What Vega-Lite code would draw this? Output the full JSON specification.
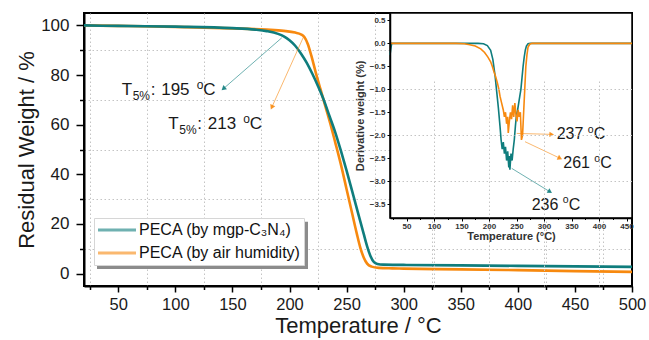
{
  "$schema": "https://vega.github.io/schema/vega-lite/v6.json",
  "width": 548,
  "height": 273,
  "autosize": {"type": "none"},
  "padding": {"left": 84, "top": 13, "right": 17, "bottom": 54},
  "config": {
    "font": "Liberation Sans",
    "view": {"stroke": "black", "strokeWidth": 2},
    "axis": {
      "domainColor": "black",
      "tickColor": "black",
      "labelColor": "#1a1a1a",
      "titleColor": "#1a1a1a",
      "titleFontWeight": "normal",
      "gridColor": "#c4c4c4",
      "gridDash": [1.5, 2.5],
      "gridWidth": 1
    }
  },
  "datasets": {
    "tga": [
      {"s": "PECA (by air humidity)", "T": 20, "w": 100},
      {"s": "PECA (by air humidity)", "T": 50, "w": 99.8},
      {"s": "PECA (by air humidity)", "T": 100, "w": 99.4},
      {"s": "PECA (by air humidity)", "T": 150, "w": 98.8},
      {"s": "PECA (by air humidity)", "T": 180, "w": 98.3},
      {"s": "PECA (by air humidity)", "T": 195, "w": 97.8},
      {"s": "PECA (by air humidity)", "T": 205, "w": 97.1},
      {"s": "PECA (by air humidity)", "T": 210, "w": 96.4},
      {"s": "PECA (by air humidity)", "T": 213, "w": 95.3},
      {"s": "PECA (by air humidity)", "T": 216, "w": 92.5},
      {"s": "PECA (by air humidity)", "T": 219, "w": 88.0},
      {"s": "PECA (by air humidity)", "T": 223, "w": 81.0},
      {"s": "PECA (by air humidity)", "T": 227, "w": 74.5},
      {"s": "PECA (by air humidity)", "T": 232, "w": 66.5},
      {"s": "PECA (by air humidity)", "T": 236, "w": 60.0},
      {"s": "PECA (by air humidity)", "T": 240, "w": 53.0},
      {"s": "PECA (by air humidity)", "T": 245, "w": 44.0},
      {"s": "PECA (by air humidity)", "T": 250, "w": 34.0},
      {"s": "PECA (by air humidity)", "T": 255, "w": 24.0},
      {"s": "PECA (by air humidity)", "T": 259, "w": 16.0},
      {"s": "PECA (by air humidity)", "T": 262, "w": 10.5},
      {"s": "PECA (by air humidity)", "T": 265, "w": 6.5},
      {"s": "PECA (by air humidity)", "T": 268, "w": 4.0},
      {"s": "PECA (by air humidity)", "T": 272, "w": 2.8},
      {"s": "PECA (by air humidity)", "T": 278, "w": 2.3},
      {"s": "PECA (by air humidity)", "T": 290, "w": 2.1},
      {"s": "PECA (by air humidity)", "T": 300, "w": 2.0},
      {"s": "PECA (by air humidity)", "T": 350, "w": 1.7},
      {"s": "PECA (by air humidity)", "T": 400, "w": 1.4},
      {"s": "PECA (by air humidity)", "T": 450, "w": 1.0},
      {"s": "PECA (by air humidity)", "T": 500, "w": 0.7},
      {"s": "PECA (by mgp-C₃N₄)", "T": 20, "w": 100},
      {"s": "PECA (by mgp-C₃N₄)", "T": 50, "w": 99.8},
      {"s": "PECA (by mgp-C₃N₄)", "T": 100, "w": 99.5},
      {"s": "PECA (by mgp-C₃N₄)", "T": 150, "w": 98.9},
      {"s": "PECA (by mgp-C₃N₄)", "T": 170, "w": 98.3},
      {"s": "PECA (by mgp-C₃N₄)", "T": 180, "w": 97.7},
      {"s": "PECA (by mgp-C₃N₄)", "T": 190, "w": 96.6},
      {"s": "PECA (by mgp-C₃N₄)", "T": 195, "w": 95.6},
      {"s": "PECA (by mgp-C₃N₄)", "T": 200, "w": 94.0},
      {"s": "PECA (by mgp-C₃N₄)", "T": 205, "w": 91.8},
      {"s": "PECA (by mgp-C₃N₄)", "T": 210, "w": 88.7},
      {"s": "PECA (by mgp-C₃N₄)", "T": 215, "w": 85.0},
      {"s": "PECA (by mgp-C₃N₄)", "T": 220, "w": 80.5},
      {"s": "PECA (by mgp-C₃N₄)", "T": 225, "w": 75.5},
      {"s": "PECA (by mgp-C₃N₄)", "T": 230, "w": 70.0},
      {"s": "PECA (by mgp-C₃N₄)", "T": 235, "w": 63.5},
      {"s": "PECA (by mgp-C₃N₄)", "T": 240, "w": 57.0},
      {"s": "PECA (by mgp-C₃N₄)", "T": 245, "w": 49.5},
      {"s": "PECA (by mgp-C₃N₄)", "T": 250, "w": 41.5},
      {"s": "PECA (by mgp-C₃N₄)", "T": 255, "w": 33.0},
      {"s": "PECA (by mgp-C₃N₄)", "T": 260, "w": 24.5},
      {"s": "PECA (by mgp-C₃N₄)", "T": 265, "w": 16.0},
      {"s": "PECA (by mgp-C₃N₄)", "T": 268, "w": 11.0},
      {"s": "PECA (by mgp-C₃N₄)", "T": 271, "w": 7.0},
      {"s": "PECA (by mgp-C₃N₄)", "T": 274, "w": 4.6},
      {"s": "PECA (by mgp-C₃N₄)", "T": 277, "w": 3.9},
      {"s": "PECA (by mgp-C₃N₄)", "T": 282, "w": 3.6},
      {"s": "PECA (by mgp-C₃N₄)", "T": 300, "w": 3.5},
      {"s": "PECA (by mgp-C₃N₄)", "T": 350, "w": 3.3},
      {"s": "PECA (by mgp-C₃N₄)", "T": 400, "w": 3.1},
      {"s": "PECA (by mgp-C₃N₄)", "T": 450, "w": 2.9},
      {"s": "PECA (by mgp-C₃N₄)", "T": 500, "w": 2.7}
    ],
    "dtg": [
      {"s": "PECA (by mgp-C₃N₄)", "T": 20, "d": -0.25},
      {"s": "PECA (by mgp-C₃N₄)", "T": 23, "d": 0},
      {"s": "PECA (by mgp-C₃N₄)", "T": 50, "d": 0},
      {"s": "PECA (by mgp-C₃N₄)", "T": 100, "d": 0},
      {"s": "PECA (by mgp-C₃N₄)", "T": 150, "d": 0},
      {"s": "PECA (by mgp-C₃N₄)", "T": 180, "d": 0},
      {"s": "PECA (by mgp-C₃N₄)", "T": 190, "d": -0.01},
      {"s": "PECA (by mgp-C₃N₄)", "T": 197, "d": -0.05},
      {"s": "PECA (by mgp-C₃N₄)", "T": 203, "d": -0.15},
      {"s": "PECA (by mgp-C₃N₄)", "T": 207, "d": -0.35},
      {"s": "PECA (by mgp-C₃N₄)", "T": 211, "d": -0.7},
      {"s": "PECA (by mgp-C₃N₄)", "T": 214, "d": -1.05},
      {"s": "PECA (by mgp-C₃N₄)", "T": 217, "d": -1.4},
      {"s": "PECA (by mgp-C₃N₄)", "T": 220, "d": -1.8},
      {"s": "PECA (by mgp-C₃N₄)", "T": 222, "d": -2.1},
      {"s": "PECA (by mgp-C₃N₄)", "T": 224, "d": -2.3},
      {"s": "PECA (by mgp-C₃N₄)", "T": 226, "d": -2.15},
      {"s": "PECA (by mgp-C₃N₄)", "T": 228, "d": -2.4},
      {"s": "PECA (by mgp-C₃N₄)", "T": 230, "d": -2.25},
      {"s": "PECA (by mgp-C₃N₄)", "T": 232, "d": -2.55},
      {"s": "PECA (by mgp-C₃N₄)", "T": 234, "d": -2.35},
      {"s": "PECA (by mgp-C₃N₄)", "T": 236, "d": -2.7},
      {"s": "PECA (by mgp-C₃N₄)", "T": 237, "d": -2.45},
      {"s": "PECA (by mgp-C₃N₄)", "T": 238, "d": -2.75},
      {"s": "PECA (by mgp-C₃N₄)", "T": 240, "d": -2.4},
      {"s": "PECA (by mgp-C₃N₄)", "T": 242, "d": -2.55},
      {"s": "PECA (by mgp-C₃N₄)", "T": 244, "d": -2.3},
      {"s": "PECA (by mgp-C₃N₄)", "T": 246, "d": -2.1},
      {"s": "PECA (by mgp-C₃N₄)", "T": 248, "d": -1.8},
      {"s": "PECA (by mgp-C₃N₄)", "T": 250, "d": -1.55},
      {"s": "PECA (by mgp-C₃N₄)", "T": 252, "d": -1.45},
      {"s": "PECA (by mgp-C₃N₄)", "T": 254, "d": -1.3},
      {"s": "PECA (by mgp-C₃N₄)", "T": 256, "d": -1.15},
      {"s": "PECA (by mgp-C₃N₄)", "T": 258, "d": -1.0},
      {"s": "PECA (by mgp-C₃N₄)", "T": 260, "d": -0.75},
      {"s": "PECA (by mgp-C₃N₄)", "T": 262, "d": -0.5},
      {"s": "PECA (by mgp-C₃N₄)", "T": 264, "d": -0.3},
      {"s": "PECA (by mgp-C₃N₄)", "T": 266, "d": -0.15},
      {"s": "PECA (by mgp-C₃N₄)", "T": 268, "d": -0.06},
      {"s": "PECA (by mgp-C₃N₄)", "T": 271, "d": -0.01},
      {"s": "PECA (by mgp-C₃N₄)", "T": 275, "d": 0},
      {"s": "PECA (by mgp-C₃N₄)", "T": 300, "d": 0},
      {"s": "PECA (by mgp-C₃N₄)", "T": 350, "d": 0},
      {"s": "PECA (by mgp-C₃N₄)", "T": 400, "d": 0},
      {"s": "PECA (by mgp-C₃N₄)", "T": 460, "d": 0},
      {"s": "PECA (by air humidity)", "T": 20, "d": 0},
      {"s": "PECA (by air humidity)", "T": 100, "d": 0},
      {"s": "PECA (by air humidity)", "T": 140, "d": 0},
      {"s": "PECA (by air humidity)", "T": 155, "d": -0.01},
      {"s": "PECA (by air humidity)", "T": 165, "d": -0.03},
      {"s": "PECA (by air humidity)", "T": 175, "d": -0.06},
      {"s": "PECA (by air humidity)", "T": 185, "d": -0.12},
      {"s": "PECA (by air humidity)", "T": 192, "d": -0.2},
      {"s": "PECA (by air humidity)", "T": 198, "d": -0.3},
      {"s": "PECA (by air humidity)", "T": 203, "d": -0.4},
      {"s": "PECA (by air humidity)", "T": 206, "d": -0.5},
      {"s": "PECA (by air humidity)", "T": 209, "d": -0.62},
      {"s": "PECA (by air humidity)", "T": 212, "d": -0.72},
      {"s": "PECA (by air humidity)", "T": 215, "d": -0.85},
      {"s": "PECA (by air humidity)", "T": 218, "d": -1.0},
      {"s": "PECA (by air humidity)", "T": 220, "d": -1.15},
      {"s": "PECA (by air humidity)", "T": 223, "d": -1.3},
      {"s": "PECA (by air humidity)", "T": 226, "d": -1.45},
      {"s": "PECA (by air humidity)", "T": 228, "d": -1.6},
      {"s": "PECA (by air humidity)", "T": 230, "d": -1.5},
      {"s": "PECA (by air humidity)", "T": 232, "d": -1.75},
      {"s": "PECA (by air humidity)", "T": 234, "d": -1.6},
      {"s": "PECA (by air humidity)", "T": 235, "d": -1.95},
      {"s": "PECA (by air humidity)", "T": 237, "d": -1.7},
      {"s": "PECA (by air humidity)", "T": 239, "d": -1.5},
      {"s": "PECA (by air humidity)", "T": 241, "d": -1.65},
      {"s": "PECA (by air humidity)", "T": 243, "d": -1.35},
      {"s": "PECA (by air humidity)", "T": 245, "d": -1.6},
      {"s": "PECA (by air humidity)", "T": 247, "d": -1.3},
      {"s": "PECA (by air humidity)", "T": 249, "d": -1.55},
      {"s": "PECA (by air humidity)", "T": 251, "d": -1.7},
      {"s": "PECA (by air humidity)", "T": 253, "d": -1.45},
      {"s": "PECA (by air humidity)", "T": 255, "d": -1.6},
      {"s": "PECA (by air humidity)", "T": 257, "d": -1.5},
      {"s": "PECA (by air humidity)", "T": 259, "d": -2.1},
      {"s": "PECA (by air humidity)", "T": 261, "d": -2.0},
      {"s": "PECA (by air humidity)", "T": 263, "d": -1.5},
      {"s": "PECA (by air humidity)", "T": 265, "d": -1.0},
      {"s": "PECA (by air humidity)", "T": 267, "d": -0.5},
      {"s": "PECA (by air humidity)", "T": 269, "d": -0.25},
      {"s": "PECA (by air humidity)", "T": 271, "d": -0.08},
      {"s": "PECA (by air humidity)", "T": 274, "d": -0.02},
      {"s": "PECA (by air humidity)", "T": 278, "d": 0},
      {"s": "PECA (by air humidity)", "T": 300, "d": 0},
      {"s": "PECA (by air humidity)", "T": 460, "d": 0}
    ],
    "arrowsMain": [
      {"id": "a195", "s": "PECA (by mgp-C₃N₄)", "x": 193.2, "y": 95.0, "x2": 142.1, "y2": 74.5},
      {"id": "a213", "s": "PECA (by air humidity)", "x": 212.2, "y": 95.3, "x2": 184.5, "y2": 67.0}
    ],
    "arrowsInset": [
      {"id": "a237", "s": "PECA (by air humidity)", "x": 250.4, "y": -1.96, "x2": 314, "y2": -1.98},
      {"id": "a261", "s": "PECA (by air humidity)", "x": 265.5, "y": -2.14, "x2": 329, "y2": -2.5},
      {"id": "a236", "s": "PECA (by mgp-C₃N₄)", "x": 241.3, "y": -2.72, "x2": 310.9, "y2": -3.23}
    ],
    "t5": [
      {"x": 53, "y": 71.8, "temp": "195"},
      {"x": 93.9, "y": 58.3, "temp": "213"}
    ],
    "peaks": [
      {"x": 323, "y": -2.09, "temp": "237"},
      {"x": 335, "y": -2.72, "temp": "261"},
      {"x": 277.6, "y": -3.62, "temp": "236"}
    ]
  },
  "layer": [
    {
      "resolve": {"axis": {"x": "independent", "y": "independent"}},
      "layer": [
        {
          "data": {"name": "tga"},
          "mark": {"type": "line", "strokeWidth": 2.6, "interpolate": "monotone"},
          "encoding": {
            "x": {
              "field": "T", "type": "quantitative",
              "scale": {"domain": [20, 500], "nice": false, "zero": false},
              "axis": {
                "orient": "bottom",
                "title": "Temperature / °C",
                "values": [50, 100, 150, 200, 250, 300, 350, 400, 450, 500],
                "format": "d",
                "labelOverlap": false,
                "labelFlush": false,
                "labelFontSize": 16.5,
                "labelPadding": 4,
                "tickSize": 6,
                "tickWidth": 1.5,
                "domainWidth": 2,
                "grid": false,
                "titleFontSize": 22,
                "titlePadding": 3
              }
            },
            "y": {
              "field": "w", "type": "quantitative",
              "scale": {"domain": [-5, 105], "nice": false, "zero": false},
              "axis": {
                "orient": "left",
                "title": "Residual Weight / %",
                "values": [0, 20, 40, 60, 80, 100],
                "labelOverlap": false,
                "labelFlush": false,
                "labelFontSize": 17,
                "labelPadding": 7,
                "tickSize": 8,
                "tickWidth": 1.5,
                "domainWidth": 2,
                "grid": false,
                "titleFontSize": 22,
                "titlePadding": 2
              }
            },
            "color": {
              "field": "s", "type": "nominal",
              "scale": {"domain": ["PECA (by mgp-C₃N₄)", "PECA (by air humidity)"], "range": ["#0f7d7d", "#f7890f"]},
              "legend": {
                "title": null,
                "orient": "none",
                "legendX": 10,
                "legendY": 205,
                "symbolType": "stroke",
                "symbolSize": 1444,
                "symbolStrokeWidth": 3,
                "clipHeight": 19,
                "rowPadding": 4,
                "padding": 2.5,
                "labelFontSize": 16,
                "labelOffset": 1.5,
                "labelColor": "#111",
                "labelLimit": 400,
                "fillColor": "white",
                "strokeColor": "#d6d6d6"
              }
            }
          }
        },
        {
          "data": {"values": [{}]},
          "mark": {"type": "rect", "fill": "#8c8c8c"},
          "encoding": {
            "x": {
              "datum": 31.4, "type": "quantitative",
              "axis": {
                "orient": "bottom",
                "title": null,
                "values": [25, 75, 125, 175, 225, 275, 325, 375, 425, 475],
                "labels": false,
                "domain": false,
                "tickSize": 3.5,
                "tickWidth": 1.5,
                "grid": true
              }
            },
            "x2": {"datum": 216.2},
            "y": {
              "datum": 20.9, "type": "quantitative",
              "axis": {
                "orient": "left",
                "title": null,
                "values": [10, 30, 50, 70, 90],
                "labels": false,
                "domain": false,
                "tickSize": 4.5,
                "tickWidth": 1.5,
                "grid": true
              }
            },
            "y2": {"datum": 1.9}
          }
        },
        {
          "data": {"name": "arrowsMain"},
          "mark": {"type": "rule", "strokeWidth": 1, "opacity": 0.6},
          "encoding": {
            "x": {"field": "x", "type": "quantitative", "axis": null},
            "y": {"field": "y", "type": "quantitative", "axis": null},
            "x2": {"field": "x2"},
            "y2": {"field": "y2"},
            "color": {"field": "s", "type": "nominal"}
          }
        },
        {
          "data": {"name": "arrowsMain"},
          "transform": [{"filter": {"field": "id", "equal": "a195"}}],
          "mark": {"type": "point", "shape": "triangle-up", "filled": true, "size": 30, "angle": 228.9, "opacity": 0.9},
          "encoding": {
            "x": {"field": "x2", "type": "quantitative", "axis": null},
            "y": {"field": "y2", "type": "quantitative", "axis": null},
            "color": {"field": "s", "type": "nominal"}
          }
        },
        {
          "data": {"name": "arrowsMain"},
          "transform": [{"filter": {"field": "id", "equal": "a213"}}],
          "mark": {"type": "point", "shape": "triangle-up", "filled": true, "size": 30, "angle": 204.2, "opacity": 0.9},
          "encoding": {
            "x": {"field": "x2", "type": "quantitative", "axis": null},
            "y": {"field": "y2", "type": "quantitative", "axis": null},
            "color": {"field": "s", "type": "nominal"}
          }
        },
        {
          "data": {"name": "t5"},
          "mark": {"type": "text", "text": "T", "align": "left", "baseline": "alphabetic", "fontSize": 17, "color": "#1a1a1a"},
          "encoding": {"x": {"field": "x", "type": "quantitative", "axis": null}, "y": {"field": "y", "type": "quantitative", "axis": null}}
        },
        {
          "data": {"name": "t5"},
          "mark": {"type": "text", "text": "5%", "align": "left", "baseline": "alphabetic", "fontSize": 12, "dx": 11, "dy": 5, "color": "#1a1a1a"},
          "encoding": {"x": {"field": "x", "type": "quantitative", "axis": null}, "y": {"field": "y", "type": "quantitative", "axis": null}}
        },
        {
          "data": {"name": "t5"},
          "mark": {"type": "text", "text": ":", "align": "left", "baseline": "alphabetic", "fontSize": 17, "dx": 29, "color": "#1a1a1a"},
          "encoding": {"x": {"field": "x", "type": "quantitative", "axis": null}, "y": {"field": "y", "type": "quantitative", "axis": null}}
        },
        {
          "data": {"name": "t5"},
          "mark": {"type": "text", "align": "left", "baseline": "alphabetic", "fontSize": 17, "dx": 39.5, "color": "#1a1a1a"},
          "encoding": {"x": {"field": "x", "type": "quantitative", "axis": null}, "y": {"field": "y", "type": "quantitative", "axis": null}, "text": {"field": "temp"}}
        },
        {
          "data": {"name": "t5"},
          "mark": {"type": "text", "text": "o", "align": "left", "baseline": "alphabetic", "fontSize": 12, "dx": 75, "dy": -6, "color": "#1a1a1a"},
          "encoding": {"x": {"field": "x", "type": "quantitative", "axis": null}, "y": {"field": "y", "type": "quantitative", "axis": null}}
        },
        {
          "data": {"name": "t5"},
          "mark": {"type": "text", "text": "C", "align": "left", "baseline": "alphabetic", "fontSize": 17, "dx": 81.5, "color": "#1a1a1a"},
          "encoding": {"x": {"field": "x", "type": "quantitative", "axis": null}, "y": {"field": "y", "type": "quantitative", "axis": null}}
        }
      ]
    },
    {
      "resolve": {"axis": {"x": "independent", "y": "independent"}},
      "layer": [
        {
          "data": {"values": [{}]},
          "mark": {"type": "rect", "fill": "white", "stroke": "black", "strokeWidth": 1.5},
          "encoding": {
            "x": {
              "datum": 20, "type": "quantitative",
              "scale": {"domain": [20, 460], "range": [306, 548], "nice": false, "zero": false},
              "axis": {
                "orient": "bottom",
                "title": "Temperature (°C)",
                "offset": -68,
                "zindex": 1,
                "values": [50, 100, 150, 200, 250, 300, 350, 400, 450],
                "format": "d",
                "labelOverlap": false,
                "labelFlush": false,
                "labelFontSize": 8,
                "labelFontWeight": "bold",
                "labelColor": "#333",
                "labelPadding": 1,
                "tickSize": 3,
                "tickWidth": 1,
                "domainWidth": 1.5,
                "grid": false,
                "titleFontSize": 11,
                "titleFontWeight": "bold",
                "titleColor": "#333",
                "titlePadding": 0
              }
            },
            "x2": {"datum": 460},
            "y": {
              "datum": -3.8, "type": "quantitative",
              "scale": {"domain": [-3.8, 0.66], "range": [205, 0], "nice": false, "zero": false},
              "axis": {
                "orient": "left",
                "title": "Derivative weight (%)",
                "offset": -306,
                "zindex": 1,
                "values": [-3.5, -3, -2.5, -2, -1.5, -1, -0.5, 0, 0.5],
                "format": ".1f",
                "labelOverlap": false,
                "labelFlush": false,
                "labelFontSize": 8,
                "labelFontWeight": "bold",
                "labelColor": "#333",
                "labelPadding": 2,
                "tickSize": 3,
                "tickWidth": 1,
                "domainWidth": 1.5,
                "grid": false,
                "titleFontSize": 11,
                "titleFontWeight": "bold",
                "titleColor": "#333",
                "titlePadding": 4
              }
            },
            "y2": {"datum": 0.66}
          }
        },
        {
          "data": {"name": "dtg"},
          "mark": {"type": "line", "strokeWidth": 1.6},
          "encoding": {
            "x": {
              "field": "T", "type": "quantitative",
              "axis": {
                "orient": "bottom",
                "offset": -68,
                "zindex": 1,
                "title": null,
                "values": [25, 75, 125, 175, 225, 275, 325, 375, 425],
                "labels": false,
                "domain": false,
                "tickSize": 1.5,
                "tickWidth": 1,
                "grid": false
              }
            },
            "y": {
              "field": "d", "type": "quantitative",
              "axis": {
                "orient": "left",
                "offset": -306,
                "zindex": 1,
                "title": null,
                "values": [-3, -2, -1],
                "labels": false,
                "domain": false,
                "ticks": false,
                "grid": true
              }
            },
            "color": {"field": "s", "type": "nominal"}
          }
        },
        {
          "data": {"name": "arrowsInset"},
          "mark": {"type": "rule", "strokeWidth": 1, "opacity": 0.6},
          "encoding": {
            "x": {
              "field": "x", "type": "quantitative",
              "axis": {
                "orient": "bottom",
                "offset": -68,
                "zindex": 1,
                "title": null,
                "values": [100, 200, 300, 400],
                "labels": false,
                "domain": false,
                "ticks": false,
                "grid": true
              }
            },
            "y": {"field": "y", "type": "quantitative", "axis": null},
            "x2": {"field": "x2"},
            "y2": {"field": "y2"},
            "color": {"field": "s", "type": "nominal"}
          }
        },
        {
          "data": {"name": "arrowsInset"},
          "transform": [{"filter": {"field": "id", "equal": "a237"}}],
          "mark": {"type": "point", "shape": "triangle-up", "filled": true, "size": 28, "angle": 91.5, "opacity": 0.9},
          "encoding": {
            "x": {"field": "x2", "type": "quantitative", "axis": null},
            "y": {"field": "y2", "type": "quantitative", "axis": null},
            "color": {"field": "s", "type": "nominal"}
          }
        },
        {
          "data": {"name": "arrowsInset"},
          "transform": [{"filter": {"field": "id", "equal": "a261"}}],
          "mark": {"type": "point", "shape": "triangle-up", "filled": true, "size": 28, "angle": 115.4, "opacity": 0.9},
          "encoding": {
            "x": {"field": "x2", "type": "quantitative", "axis": null},
            "y": {"field": "y2", "type": "quantitative", "axis": null},
            "color": {"field": "s", "type": "nominal"}
          }
        },
        {
          "data": {"name": "arrowsInset"},
          "transform": [{"filter": {"field": "id", "equal": "a236"}}],
          "mark": {"type": "point", "shape": "triangle-up", "filled": true, "size": 28, "angle": 121.5, "opacity": 0.9},
          "encoding": {
            "x": {"field": "x2", "type": "quantitative", "axis": null},
            "y": {"field": "y2", "type": "quantitative", "axis": null},
            "color": {"field": "s", "type": "nominal"}
          }
        },
        {
          "data": {"name": "peaks"},
          "mark": {"type": "text", "align": "left", "baseline": "alphabetic", "fontSize": 16, "color": "#1a1a1a"},
          "encoding": {"x": {"field": "x", "type": "quantitative", "axis": null}, "y": {"field": "y", "type": "quantitative", "axis": null}, "text": {"field": "temp"}}
        },
        {
          "data": {"name": "peaks"},
          "mark": {"type": "text", "text": "o", "align": "left", "baseline": "alphabetic", "fontSize": 10.5, "dx": 31, "dy": -6.5, "color": "#1a1a1a"},
          "encoding": {"x": {"field": "x", "type": "quantitative", "axis": null}, "y": {"field": "y", "type": "quantitative", "axis": null}}
        },
        {
          "data": {"name": "peaks"},
          "mark": {"type": "text", "text": "C", "align": "left", "baseline": "alphabetic", "fontSize": 16, "dx": 37, "color": "#1a1a1a"},
          "encoding": {"x": {"field": "x", "type": "quantitative", "axis": null}, "y": {"field": "y", "type": "quantitative", "axis": null}}
        }
      ]
    }
  ],
  "resolve": {
    "scale": {"x": "independent", "y": "independent"},
    "axis": {"x": "independent", "y": "independent"}
  }
}
